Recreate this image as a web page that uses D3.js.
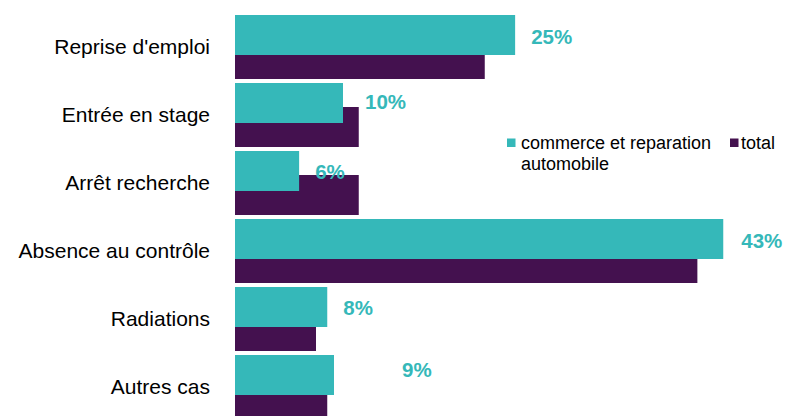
<!DOCTYPE html>
<html>
<head>
<meta charset="utf-8">
<script src="https://cdn.jsdelivr.net/npm/d3@7"></script>
<style>
  body { margin: 0; background: #fff; }
  text { font-family: "Liberation Sans", Arial, sans-serif; }
</style>
</head>
<body>
<div class="canvas"></div>
<script>
// data (percent)
const categories = ["Reprise d'emploi", "Entrée en stage", "Arrêt recherche", "Absence au contrôle", "Radiations", "Autres cas"];
const commerce = [24.9, 9.6, 5.7, 43.4, 8.2, 8.8];
const total = [22.2, 11.0, 11.0, 41.1, 7.2, 8.2];
const seriesNames = ['commerce et reparation automobile', 'total'];

const dims = { width: 786, height: 416 };
const colours = { commerce: '#35b8b9', total: '#44114f' };

// labels were hand placed in the original, small nudges
const labelDx = [0, 6, 0, 2, 0, 52];
const labelDy = [2, -1, 1, 2, 1, -5];

const svg = d3.select('.canvas')
  .append('svg')
  .attr('width', dims.width)
  .attr('height', dims.height);

const y = d3.scaleBand()
  .domain(categories)
  .range([15, 15 + 68 * categories.length]);

const x = d3.scaleLinear()
  .domain([0, 50])
  .range([235, 235 + 11.25 * 50]);

const barH = 40;
const shift = 24; // total bar sits lower, behind the commerce bar

// total bars first (underneath)
svg.append('g')
  .selectAll('rect')
  .data(categories)
  .join('rect')
    .attr('x', x(0))
    .attr('y', d => y(d) + shift)
    .attr('width', (d, i) => x(total[i]) - x(0))
    .attr('height', barH)
    .attr('fill', colours.total);

svg.append('g')
  .selectAll('rect')
  .data(categories)
  .join('rect')
    .attr('x', x(0))
    .attr('y', d => y(d))
    .attr('width', (d, i) => x(commerce[i]) - x(0))
    .attr('height', barH)
    .attr('fill', colours.commerce);

// value labels
const fmt = d3.format('.0f');
svg.append('g')
  .selectAll('text')
  .data(categories)
  .join('text')
    .attr('x', (d, i) => x(commerce[i]) + 16 + labelDx[i])
    .attr('y', (d, i) => y(d) + barH / 2 + labelDy[i])
    .attr('dy', '0.36em')
    .attr('fill', colours.commerce)
    .attr('font-weight', 'bold')
    .attr('font-size', 20.5)
    .text((d, i) => fmt(commerce[i]) + '%');

// category axis
const yAxis = d3.axisLeft(y).tickSize(0).tickPadding(25);
const axisG = svg.append('g')
  .attr('transform', `translate(${x(0)}, -2)`)
  .call(yAxis);
axisG.select('.domain').remove();
axisG.selectAll('text')
  .attr('font-family', '"Liberation Sans", Arial, sans-serif')
  .attr('font-size', 21)
  .attr('fill', '#000');

// legend
const legend = svg.append('g');
legend.append('rect')
  .attr('x', 507).attr('y', 138.5)
  .attr('width', 8.5).attr('height', 8.5)
  .attr('fill', colours.commerce);
legend.append('text')
  .attr('x', 521).attr('y', 149)
  .attr('font-size', 18)
  .text('commerce et reparation');
legend.append('text')
  .attr('x', 521).attr('y', 170)
  .attr('font-size', 18)
  .text('automobile');
legend.append('rect')
  .attr('x', 730).attr('y', 138.5)
  .attr('width', 8.5).attr('height', 8.5)
  .attr('fill', colours.total);
legend.append('text')
  .attr('x', 741).attr('y', 149)
  .attr('font-size', 18)
  .text(seriesNames[1]);
</script>
</body>
</html>
